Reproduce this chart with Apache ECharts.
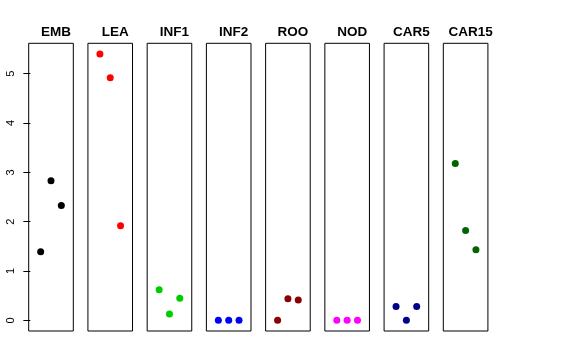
<!DOCTYPE html>
<html><head><meta charset="utf-8">
<script src="https://cdn.jsdelivr.net/npm/echarts@6/dist/echarts.min.js"></script>
<style>html,body{margin:0;padding:0;background:#fff}#c{width:576px;height:360px}</style>
</head><body><div id="c"></div>
<script>
const categories = ['EMB','LEA','INF1','INF2','ROO','NOD','CAR5','CAR15'];
const colors = ['#000000','#FF0000','#00CD00','#0000FF','#8B0000','#FF00FF','#00008B','#006400'];
const xPositions = [1,2,3];
const EMB = [1.39, 2.83, 2.33];
const LEA = [5.40, 4.92, 1.92];
const INF1 = [0.62, 0.13, 0.45];
const INF2 = [0, 0, 0];
const ROO = [0, 0.44, 0.41];
const NOD = [0, 0, 0];
const CAR5 = [0.28, 0, 0.28];
const CAR15 = [3.18, 1.82, 1.43];
const seriesValues = [EMB, LEA, INF1, INF2, ROO, NOD, CAR5, CAR15];
const yTicks = [0,1,2,3,4,5];

(function () {
  const yMin = -0.216, yMax = 5.616;
  const left0 = 28.7, step = 59.23, w = 44.6, gTop = 43.3, h = 287.7;
  const grids = [], xAxes = [], yAxes = [], series = [], titles = [];
  categories.forEach((cat, i) => {
    const l = left0 + i * step;
    grids.push({left: l, top: gTop, width: w, height: h, show: true, borderColor: '#000', borderWidth: 1, backgroundColor: 'transparent'});
    xAxes.push({type: 'value', gridIndex: i, min: -0.16, max: 4.16, show: false});
    yAxes.push({
      type: 'value', gridIndex: i, min: yMin, max: yMax, show: i === 0,
      splitLine: {show: false}, axisLine: {show: false},
      axisTick: {show: true, length: 7, lineStyle: {color: '#000'}, customValues: yTicks},
      axisLabel: {show: true, rotate: 90, margin: 12, color: '#000', fontSize: 11, fontFamily: 'Liberation Sans, Arial, sans-serif', customValues: yTicks}
    });
    series.push({
      type: 'scatter', xAxisIndex: i, yAxisIndex: i, symbolSize: 7,
      itemStyle: {color: colors[i], opacity: 1},
      data: xPositions.map((x, k) => [x, seriesValues[i][k]]),
      silent: true, animation: false
    });
    titles.push({
      text: cat, left: l + w / 2, top: 20, textAlign: 'center',
      textStyle: {fontSize: 13.5, fontWeight: 'bold', color: '#000', fontFamily: 'Liberation Sans, Arial, sans-serif'}
    });
  });
  const chart = echarts.init(document.getElementById('c'), null, {renderer: 'canvas'});
  chart.setOption({animation: false, title: titles, grid: grids, xAxis: xAxes, yAxis: yAxes, series: series});
})();
</script></body></html>
